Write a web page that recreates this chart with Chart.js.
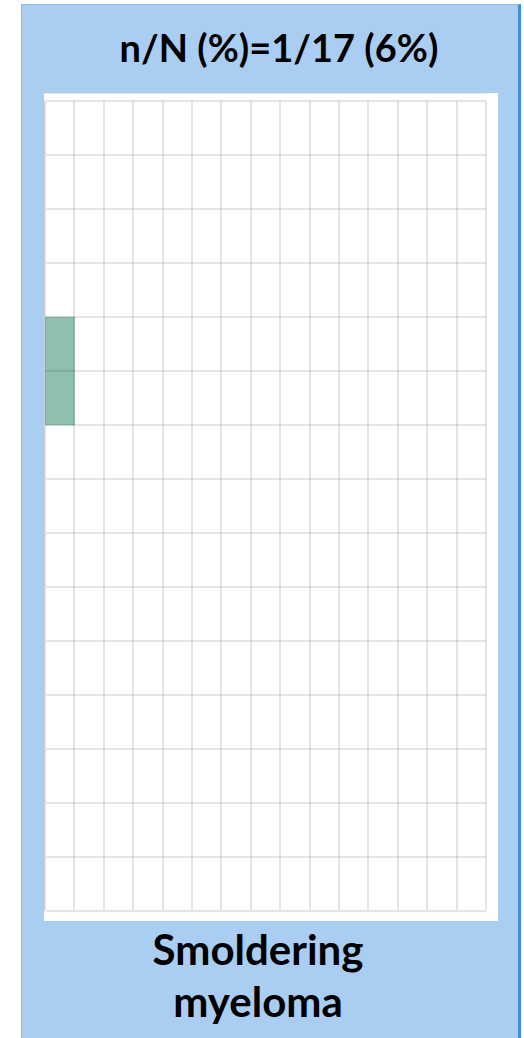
<!DOCTYPE html>
<html lang="en">
<head>
  <meta charset="UTF-8">
  <title>Smoldering myeloma</title>
  <script src="https://cdn.jsdelivr.net/npm/chart.js"></script>
  <style>
    body { margin: 0; background: #fff; overflow: hidden; }
    .panel {
      position: absolute; left: 21px; top: 4px; width: 496px; height: 1040px;
      background: #a9cef2; border-left: 1px solid #8dbbe8; border-top: 1px solid #8dbbe8;
      border-right: 3px solid #3b8ee0;
    }
    .title {
      position: absolute; left: 0; top: 19px; width: 514px; text-align: center;
      font-family: Lato, sans-serif; font-weight: bold; font-size: 38px; color: #000;
    }
    .box {
      position: absolute; left: 22px; top: 88px; width: 454px; height: 828px; background: #fff;
    }
    .label {
      position: absolute; left: 0; top: 918px; width: 472px; text-align: center;
      font-family: Lato, sans-serif; font-weight: bold; font-size: 42px; line-height: 52px; color: #000;
    }
  </style>
</head>
<body>
  <div class="panel">
    <div class="title">n/N (%)=1/17 (6%)</div>
    <div class="box"><canvas id="grid" width="454" height="828"></canvas></div>
    <div class="label">Smoldering<br>myeloma</div>
  </div>

  <script>
    // 15 columns x 15 rows, one patient cell filled
    const columns = ['1','2','3','4','5','6','7','8','9','10','11','12','13','14','15'];
    const cellFrom = [9, null, null, null, null, null, null, null, null, null, null, null, null, null, null];
    const cellTo = [11, null, null, null, null, null, null, null, null, null, null, null, null, null, null];
    const rowCount = 15;

    const ctx = document.getElementById('grid').getContext('2d');
    new Chart(ctx, {
      type: 'bar',
      data: {
        labels: columns,
        datasets: [{
          data: columns.map((c, i) => cellFrom[i] === null ? null : [cellFrom[i], cellTo[i]]),
          backgroundColor: '#8fbfb1',
          borderWidth: 0,
          barPercentage: 1,
          categoryPercentage: 1
        }]
      },
      options: {
        responsive: false,
        animation: false,
        layout: { padding: { left: 1, top: 8, right: 12, bottom: 10 } },
        plugins: { legend: { display: false }, tooltip: { enabled: false } },
        scales: {
          x: {
            offset: true,
            ticks: { display: false },
            grid: { offset: true, color: 'rgba(0,0,0,0.1)', lineWidth: 2, drawTicks: false, z: 1 },
            border: { color: 'rgba(0,0,0,0.1)', width: 2 }
          },
          y: {
            min: 0, max: rowCount,
            ticks: { display: false, stepSize: 1 },
            grid: { color: 'rgba(0,0,0,0.1)', lineWidth: 2, drawTicks: false, z: 1 },
            border: { color: 'rgba(0,0,0,0.1)', width: 2 }
          }
        }
      }
    });
  </script>
</body>
</html>
